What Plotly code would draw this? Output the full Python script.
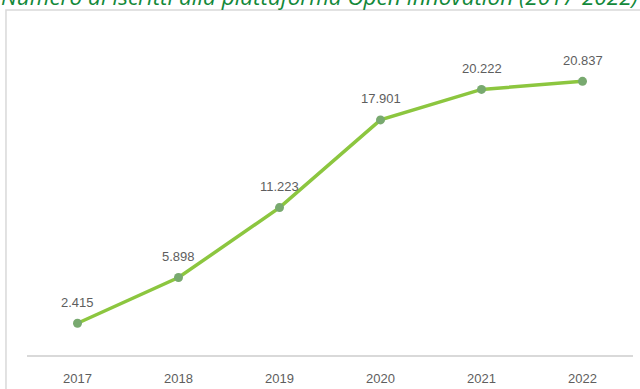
import plotly.graph_objects as go

years = ["2017", "2018", "2019", "2020", "2021", "2022"]
iscritti = [2415, 5898, 11223, 17901, 20222, 20837]
title_text = "Numero di iscritti alla piattaforma Open Innovation (2017-2022)"

def fmt_it(v):
    return f"{v:,}".replace(",", ".")

LINE_GREEN = "#8cc63f"
MARKER_GREEN = "#78a96f"
TEXT_GRAY = "#5e5e5e"

fig = go.Figure()
fig.add_trace(go.Scatter(
    x=years, y=iscritti, mode="lines+markers",
    line=dict(color=LINE_GREEN, width=3.5),
    marker=dict(color=MARKER_GREEN, size=9),
    hoverinfo="skip", showlegend=False,
))

# value labels above each point (category index on the x axis)
for i, v in enumerate(iscritti):
    fig.add_annotation(x=i, y=v, text=fmt_it(v), showarrow=False,
                       yshift=21, font=dict(size=13, color=TEXT_GRAY,
                                             family="Liberation Sans"))

# green italic title, partially above the frame
fig.add_annotation(xref="paper", yref="paper", x=0.482, y=1.043,
                   xanchor="center", yanchor="bottom", showarrow=False,
                   text=title_text,
                   font=dict(size=22.5, color="#13893a", family="Open Sans",
                             style="italic"))

# chart frame
fig.add_shape(type="rect", xref="paper", yref="paper",
              x0=-0.0347, x1=1.03, y0=-0.2, y1=1.055,
              line=dict(color="#d9d9d9", width=1.5), layer="below")

fig.update_layout(
    width=640, height=389,
    margin=dict(l=27, r=7, t=28, b=34, autoexpand=False),
    paper_bgcolor="white", plot_bgcolor="white",
    xaxis=dict(type="category", range=[-0.5, 5.5], showgrid=False,
               showline=True, linecolor="#d9d9d9", linewidth=1.5, ticks="",
               ticklabelstandoff=11, automargin=False,
               tickfont=dict(size=13, color=TEXT_GRAY, family="Liberation Sans")),
    yaxis=dict(range=[0, 24900], visible=False, showgrid=False,
               zeroline=False, automargin=False),
)

fig.write_html("out.html")
